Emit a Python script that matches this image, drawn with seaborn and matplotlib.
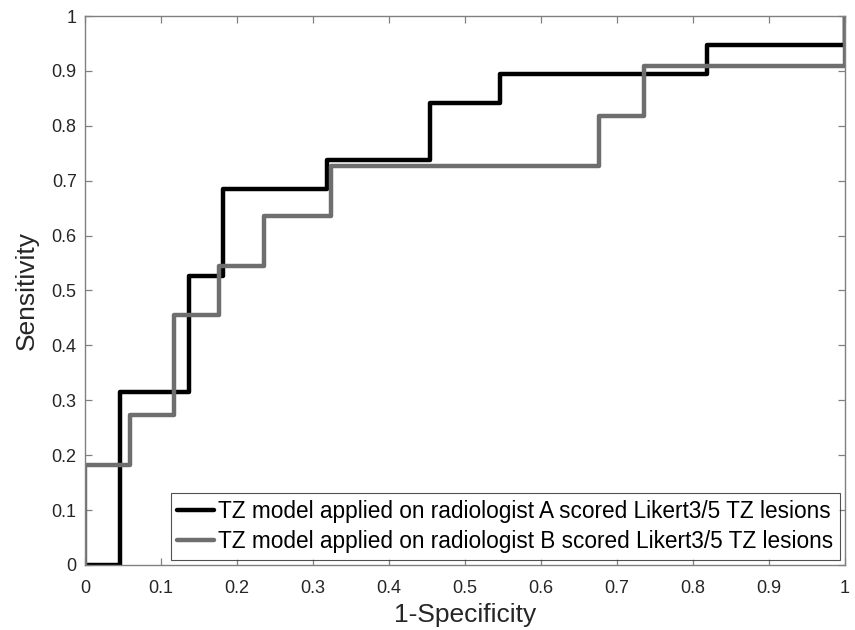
import pandas as pd
import seaborn as sns
import matplotlib.pyplot as plt

# ROC vertices (perfcurve-style output)
fpr_a = [0, 0.0455, 0.0455, 0.1364, 0.1364, 0.1818, 0.1818, 0.3182, 0.3182,
         0.4545, 0.4545, 0.5455, 0.5455, 0.8182, 0.8182, 1.0, 1.0]
tpr_a = [0, 0, 0.3158, 0.3158, 0.5263, 0.5263, 0.6842, 0.6842, 0.7368,
         0.7368, 0.8421, 0.8421, 0.8947, 0.8947, 0.9474, 0.9474, 1.0]
fpr_b = [0, 0, 0.0588, 0.0588, 0.1176, 0.1176, 0.1765, 0.1765, 0.2353,
         0.2353, 0.3235, 0.3235, 0.6765, 0.6765, 0.7353, 0.7353, 1.0, 1.0]
tpr_b = [0, 0.1818, 0.1818, 0.2727, 0.2727, 0.4545, 0.4545, 0.5455, 0.5455,
         0.6364, 0.6364, 0.7273, 0.7273, 0.8182, 0.8182, 0.9091, 0.9091, 1.0]
labels = ["TZ model applied on radiologist A scored Likert3/5 TZ lesions",
          "TZ model applied on radiologist B scored Likert3/5 TZ lesions"]
ticks = [0, 0.1, 0.2, 0.3, 0.4, 0.5, 0.6, 0.7, 0.8, 0.9, 1]
tick_labels = ["0", "0.1", "0.2", "0.3", "0.4", "0.5", "0.6", "0.7", "0.8", "0.9", "1"]

df = pd.concat([
    pd.DataFrame({"fpr": fpr_a, "tpr": tpr_a, "curve": labels[0]}),
    pd.DataFrame({"fpr": fpr_b, "tpr": tpr_b, "curve": labels[1]}),
])

sns.set_style("white")
plt.rcParams['font.family'] = ['Liberation Sans', 'DejaVu Sans']

fig = plt.figure(figsize=(8.55, 6.3), dpi=100)
ax = fig.add_axes([0.0994, 0.1032, 0.8889, 0.8714])

sns.lineplot(data=df, x="fpr", y="tpr", hue="curve", palette=["#000000", "#6e6e6e"],
             sort=False, estimator=None, linewidth=3.2, ax=ax)

ax.set_xlim(0, 1)
ax.set_ylim(0, 1)
ax.set_xticks(ticks)
ax.set_xticklabels(tick_labels)
ax.set_yticks(ticks)
ax.set_yticklabels(tick_labels)
ax.tick_params(direction="in", length=5, width=0.9, color="#808080",
               labelsize=13, labelcolor="#262626", top=True, right=True,
               bottom=True, left=True)
ax.tick_params(axis="x", pad=11)
ax.tick_params(axis="y", pad=6)
for s in ax.spines.values():
    s.set_color("#808080")
    s.set_linewidth(1.0)
ax.set_xlabel("1-Specificity", fontsize=19, color="#262626", labelpad=4)
ax.set_ylabel("Sensitivity", fontsize=19, color="#262626", labelpad=9)

leg = ax.legend(loc="lower right", fontsize=16.3, frameon=True, fancybox=False,
                handlelength=1.6, handletextpad=0.2, borderpad=0.3,
                labelspacing=0.33, borderaxespad=0.22)
leg.get_frame().set_edgecolor("#262626")
leg.get_frame().set_linewidth(0.8)
for t in leg.get_texts():
    t.set_color("#000000")

fig.savefig("out.png", dpi=100)
